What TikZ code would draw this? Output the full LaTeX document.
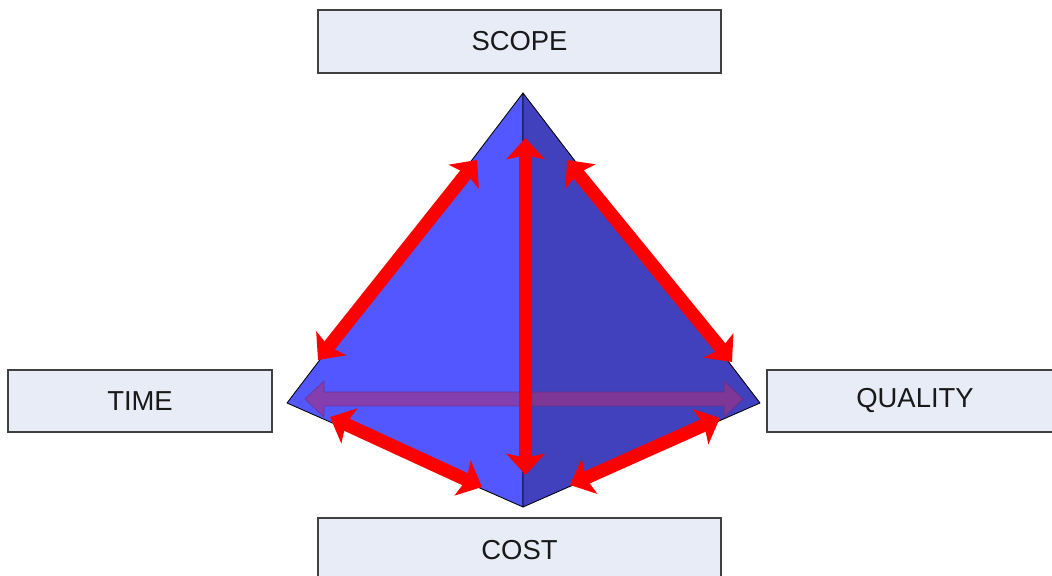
\documentclass[tikz,border=0pt]{standalone}
\usepackage{fontspec}
\setmainfont{Liberation Sans}
\usetikzlibrary{arrows.meta,calc}
\definecolor{boxfill}{HTML}{E8ECF6}
\definecolor{boxline}{HTML}{404040}
\definecolor{faceleft}{HTML}{5357FF}
\definecolor{faceright}{HTML}{4141BE}
\definecolor{pullred}{HTML}{FF0000}
\definecolor{pullpurple}{HTML}{A03282}
\definecolor{purpleline}{HTML}{6A2A7A}
\begin{document}
\begin{tikzpicture}[x=0.025cm,y=-0.025cm,
  label box/.style={draw=boxline,line width=1pt,fill=boxfill,inner sep=0pt,
    font=\fontsize{19.5}{23}\selectfont,text=black!90},
  face/.style={draw=black,line width=0.6pt,line join=round},
  pull/.style={draw=pullred,line width=0.33cm,
    {Stealth[length=0.53cm,width=0.95cm,inset=0.1cm]}-{Stealth[length=0.53cm,width=0.95cm,inset=0.1cm]}},
  cross/.style={fill=pullpurple,fill opacity=0.65,draw=purpleline,draw opacity=0.65,line width=0.5pt}]
\useasboundingbox (0,0) rectangle (1052,576);
% the four constraints
\node[label box,minimum width=10.075cm,minimum height=1.575cm] (scope) at (519.5,41.5) {SCOPE};
\node[label box,minimum width=6.6cm,minimum height=1.55cm] (time) at (140,401) {TIME};
\node[label box,minimum width=7.4cm,minimum height=1.55cm] (quality) at (915,401) {QUALITY};
\node[label box,minimum width=10.075cm,minimum height=1.6cm] (cost) at (519.5,550) {COST};
% pyramid corners
\coordinate (apex) at (523,93);
\coordinate (west) at (287,403);
\coordinate (east) at (760,403);
\coordinate (base) at (523,507);
\filldraw[face,fill=faceleft] (apex) -- (west) -- (base) -- cycle;
\filldraw[face,fill=faceright] (apex) -- (east) -- (base) -- cycle;
% arrow ends
\coordinate (ul1) at (318,360);  \coordinate (ul2) at (477,160);
\coordinate (ur1) at (567,160);  \coordinate (ur2) at (732,362);
\coordinate (v1) at (525.5,138); \coordinate (v2) at (525.5,475);
\coordinate (ll1) at (330,417);  \coordinate (ll2) at (482,487);
\coordinate (lr1) at (570,485);  \coordinate (lr2) at (720,418);
\coordinate (h1) at (305,399);   \coordinate (h2) at (743,399);
% see-through cross arrow
\draw[cross] (h1) -- ++(19,-18) -- ++(0,11) -- ($(h2)+(-19,-7)$) -- ++(0,-11)
  -- (h2) -- ++(-19,18) -- ++(0,-11) -- ($(h1)+(19,7)$) -- ++(0,11) -- cycle;
% red arrows
\draw[pull] (ul1) -- (ul2);
\draw[pull] (ur1) -- (ur2);
\draw[pull] (ll1) -- (ll2);
\draw[pull] (lr1) -- (lr2);
\draw[pull] (v1) -- (v2);
\end{tikzpicture}
\end{document}
